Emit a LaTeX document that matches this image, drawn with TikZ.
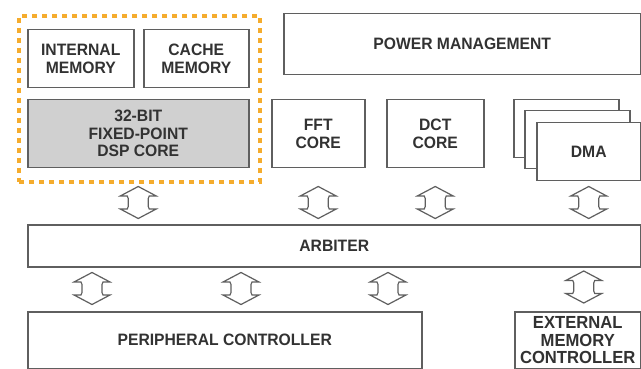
\documentclass[tikz,border=0pt]{standalone}
\usepackage{fontspec}
\setmainfont[FakeStretch=0.95]{Liberation Sans}
\usetikzlibrary{calc}
\definecolor{edge}{RGB}{95,95,95}
\definecolor{txt}{RGB}{50,50,50}
\definecolor{dspfill}{RGB}{208,208,208}
\definecolor{orng}{RGB}{245,172,45}
\tikzset{
  blk/.style={draw=edge, line width=1.5pt, fill=white, rectangle, inner sep=0pt,
    anchor=north west, align=center, text=txt,
    font=\fontsize{16.5}{17.5}\selectfont\bfseries},
  barrow/.pic={
    \draw[edge, line width=1.2pt, fill=white, line join=miter]
      (0pt,-16pt) -- (18pt,-6.5pt) -- (11pt,-6.5pt) .. controls (10pt,-6pt) and (10pt,-5pt) .. (10pt,-4pt)
      -- (10pt,4pt) .. controls (10pt,5pt) and (10pt,6pt) .. (11pt,6.5pt)
      -- (18pt,6.5pt) -- (0pt,16pt) -- (-18pt,6.5pt) -- (-11pt,6.5pt) .. controls (-10pt,6pt) and (-10pt,5pt) .. (-10pt,4pt)
      -- (-10pt,-4pt) .. controls (-10pt,-5pt) and (-10pt,-6pt) .. (-11pt,-6.5pt)
      -- (-18pt,-6.5pt) -- cycle;
  }
}
\begin{document}
\begin{tikzpicture}[x=1pt,y=-1pt]
\useasboundingbox[fill=white] (0,0) rectangle (641,369);

% DSP subsystem
\node[blk, minimum width=106pt, minimum height=58pt] (im) at (27,29) {INTERNAL\\MEMORY};
\node[blk, minimum width=105pt, minimum height=58pt] (cm) at (143,29) {CACHE\\MEMORY};
\node[blk, fill=dspfill, minimum width=221pt, minimum height=68pt] (dsp) at (27,99) {32-BIT\\FIXED-POINT\\DSP CORE};
\node[draw=orng, line width=4pt, dash pattern=on 5pt off 5pt, rectangle, inner sep=0pt,
      anchor=north west, minimum width=241pt, minimum height=166pt] (grp) at (17,14) {};

% top row
\node[blk, minimum width=357pt, minimum height=61pt] (pm) at (283,13) {POWER MANAGEMENT};
\node[blk, minimum width=93pt, minimum height=68pt] (fft) at (271,99) {FFT\\CORE};
\node[blk, minimum width=97pt, minimum height=68pt] (dct) at (386,99) {DCT\\CORE};
\node[blk, minimum width=105pt, minimum height=58pt] (dma3) at (513,99) {};
\node[blk, minimum width=105pt, minimum height=58pt] (dma2) at (524,110) {};
\node[blk, minimum width=104pt, minimum height=58pt] (dma) at (536,122) {DMA};

% arbiter and bottom row
\node[blk, minimum width=613pt, minimum height=42pt] (arb) at (27,224) {ARBITER};
\node[blk, minimum width=394pt, minimum height=57pt] (per) at (27,311) {PERIPHERAL CONTROLLER};
\node[blk, minimum width=126pt, minimum height=57pt, font=\fontsize{17.5}{17.5}\selectfont\bfseries] (emc) at (514,311) {EXTERNAL\\MEMORY\\CONTROLLER};

% bus arrows (upper)
\pic at ($(dsp.south)+(0,34)$) {barrow};
\pic at ($(fft.south)+(0,34)$) {barrow};
\pic at ($(dct.south)+(0,34)$) {barrow};
\pic at ($(dma.south)+(0,21)$) {barrow};
% bus arrows (lower)
\pic at ($(arb.south west)+(65,21)$) {barrow};
\pic at ($(arb.south west)+(214,21)$) {barrow};
\pic at ($(arb.south west)+(361,21)$) {barrow};
\pic at ($(emc.north)+(6,-24)$) {barrow};
\end{tikzpicture}
\end{document}
